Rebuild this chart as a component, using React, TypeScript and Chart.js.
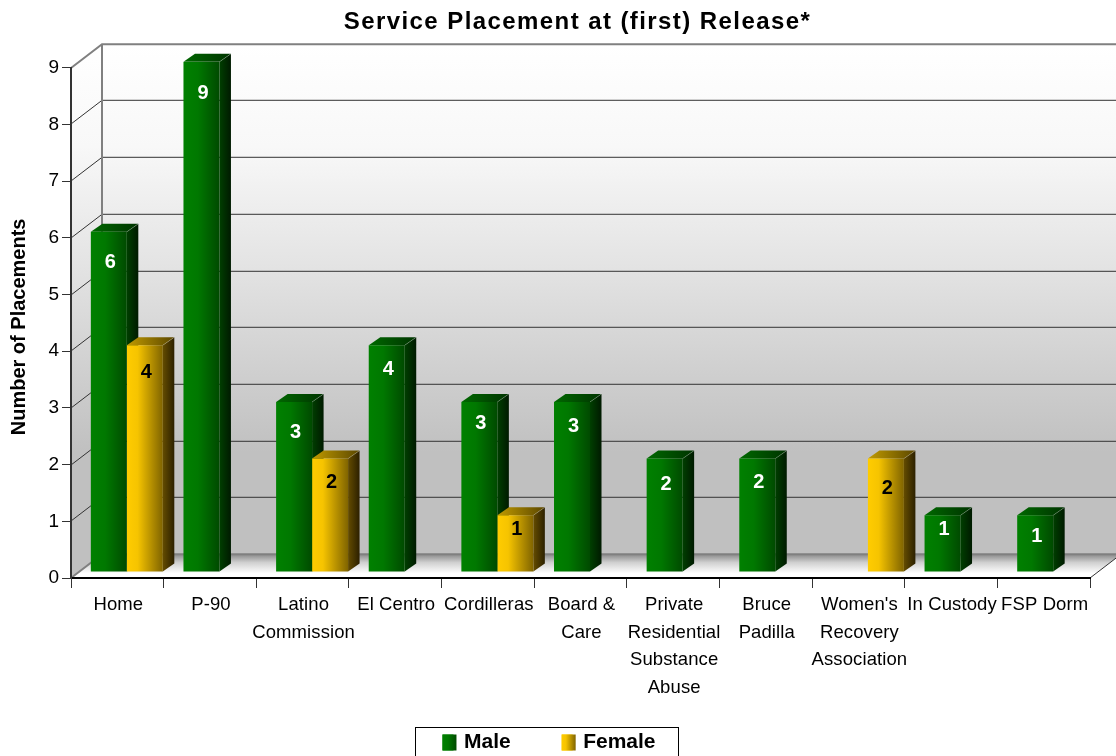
import React, { useEffect, useRef } from "react";
import { Chart, registerables } from "chart.js";

Chart.register(...registerables);

const categories: (string | string[])[] = [
  "Home",
  "P-90",
  ["Latino", "Commission"],
  "El Centro",
  "Cordilleras",
  ["Board &", "Care"],
  ["Private", "Residential", "Substance", "Abuse"],
  ["Bruce", "Padilla"],
  ["Women's", "Recovery", "Association"],
  "In Custody",
  "FSP Dorm",
];
const maleValues = [6, 9, 3, 4, 3, 3, 2, 2, null, 1, 1];
const femaleValues = [4, null, 2, null, 1, null, null, null, 2, null, null];

// Style: inset of each value label below its bar's top edge
const maleLabelInset = [31, 32, 31, 24, 22, 25, 26, 24, 0, 14, 21];
const femaleLabelInset = [27, 0, 24, 0, 14, 0, 0, 0, 30, 0, 0];

const FONT = "'Liberation Sans', Arial, sans-serif";
const DEPTH_X = 31;
const DEPTH_Y = 23.7;
const BAR_SHIFT_X = 9.5;
const BAR_SHIFT_Y = -6;
const BAR_DX = 11.5;
const BAR_DY = 8;

const palette = [
  {
    front: [[0, "#008000"], [0.4, "#007800"], [1, "#004a00"]],
    side: ["#003f00", "#001a00"],
    top: ["#006800", "#003400"],
  },
  {
    front: [[0, "#ffcc00"], [0.3, "#f6c400"], [1, "#806400"]],
    side: ["#644c00", "#2c2000"],
    top: ["#c09a00", "#5c4800"],
  },
] as const;

const hGrad = (ctx: CanvasRenderingContext2D, x0: number, x1: number, stops: readonly (readonly [number, string])[]) => {
  const g = ctx.createLinearGradient(x0, 0, x1, 0);
  stops.forEach(([o, c]) => g.addColorStop(o, c));
  return g;
};

const walls3d = {
  id: "walls3d",
  beforeDraw(chart: any) {
    const { ctx, chartArea: a, scales, width } = chart;
    const y = scales.y;
    const top = a.top - DEPTH_Y;
    const floorBack = a.bottom - DEPTH_Y;
    const bx = a.left + DEPTH_X;
    const wall = () => {
      const g = ctx.createLinearGradient(0, top, 0, floorBack);
      g.addColorStop(0, "#ffffff");
      g.addColorStop(0.2, "#f8f8f8");
      g.addColorStop(0.45, "#e2e2e2");
      g.addColorStop(0.8, "#c0c0c0");
      g.addColorStop(1, "#c0c0c0");
      return g;
    };
    ctx.save();
    // back wall
    ctx.fillStyle = wall();
    ctx.fillRect(bx, top, width - bx, floorBack - top);
    // left wall
    ctx.fillStyle = wall();
    ctx.beginPath();
    ctx.moveTo(a.left, a.top);
    ctx.lineTo(bx, top);
    ctx.lineTo(bx, floorBack);
    ctx.lineTo(a.left, a.bottom);
    ctx.closePath();
    ctx.fill();
    // floor
    const fg = ctx.createLinearGradient(0, floorBack, 0, a.bottom);
    fg.addColorStop(0, "#8a8a8a");
    fg.addColorStop(0.35, "#d0d0d0");
    fg.addColorStop(0.8, "#ffffff");
    fg.addColorStop(1, "#ffffff");
    ctx.fillStyle = fg;
    const rightSlope = DEPTH_Y / DEPTH_X;
    ctx.beginPath();
    ctx.moveTo(a.left, a.bottom);
    ctx.lineTo(bx, floorBack);
    ctx.lineTo(width, floorBack);
    ctx.lineTo(width, a.bottom - (width - a.right) * rightSlope);
    ctx.lineTo(a.right, a.bottom);
    ctx.closePath();
    ctx.fill();
    // grid lines
    for (let v = 0; v <= 9; v++) {
      const py = Math.round(y.getPixelForValue(v));
      const edge = v === 0 || v === 9;
      ctx.strokeStyle = edge ? "#808080" : "#333333";
      ctx.lineWidth = edge ? 2 : 1;
      ctx.beginPath();
      ctx.moveTo(a.left, py);
      ctx.lineTo(bx, py - DEPTH_Y);
      ctx.lineTo(width, py - DEPTH_Y);
      ctx.stroke();
    }
    // back wall left edge
    ctx.strokeStyle = "#808080";
    ctx.lineWidth = 2;
    ctx.beginPath();
    ctx.moveTo(bx, top);
    ctx.lineTo(bx, floorBack);
    ctx.stroke();
    // right floor edge
    ctx.strokeStyle = "#333333";
    ctx.lineWidth = 1;
    ctx.beginPath();
    ctx.moveTo(a.right, a.bottom);
    ctx.lineTo(width, a.bottom - (width - a.right) * rightSlope);
    ctx.stroke();
    ctx.restore();
  },
};

const bars3d = {
  id: "bars3d",
  beforeDatasetsDraw(chart: any) {
    const { ctx } = chart;
    ctx.save();
    ctx.translate(BAR_SHIFT_X, BAR_SHIFT_Y);
    [0, 1].forEach((di) => {
      const meta = chart.getDatasetMeta(di);
      const p = palette[di];
      meta.data.forEach((el: any, i: number) => {
        if (chart.data.datasets[di].data[i] == null) return;
        const { x, y, base, width } = el.getProps(["x", "y", "base", "width"], true);
        const l = x - width / 2;
        const r = x + width / 2;
        // side face
        ctx.fillStyle = hGrad(ctx, r, r + BAR_DX, [[0, p.side[0]], [1, p.side[1]]]);
        ctx.beginPath();
        ctx.moveTo(r, y);
        ctx.lineTo(r + BAR_DX, y - BAR_DY);
        ctx.lineTo(r + BAR_DX, base - BAR_DY);
        ctx.lineTo(r, base);
        ctx.closePath();
        ctx.fill();
        // top face
        ctx.fillStyle = hGrad(ctx, l, r + BAR_DX, [[0, p.top[0]], [1, p.top[1]]]);
        ctx.beginPath();
        ctx.moveTo(l, y);
        ctx.lineTo(l + BAR_DX, y - BAR_DY);
        ctx.lineTo(r + BAR_DX, y - BAR_DY);
        ctx.lineTo(r, y);
        ctx.closePath();
        ctx.fill();
        // faint corner edge
        ctx.strokeStyle = "rgba(255,255,255,0.22)";
        ctx.lineWidth = 1;
        ctx.beginPath();
        ctx.moveTo(r, y);
        ctx.lineTo(r + BAR_DX, y - BAR_DY);
        ctx.stroke();
        // front face gradient
        el.options = {
          ...el.options,
          backgroundColor: hGrad(ctx, l, r, p.front as any),
        };
      });
    });
  },
  afterDatasetsDraw(chart: any) {
    const { ctx } = chart;
    ctx.textAlign = "center";
    ctx.textBaseline = "middle";
    ctx.font = `bold 20px ${FONT}`;
    [0, 1].forEach((di) => {
      const meta = chart.getDatasetMeta(di);
      const insets = di === 0 ? maleLabelInset : femaleLabelInset;
      ctx.fillStyle = di === 0 ? "#ffffff" : "#000000";
      meta.data.forEach((el: any, i: number) => {
        const v = chart.data.datasets[di].data[i];
        if (v == null) return;
        const { x, y } = el.getProps(["x", "y"], true);
        ctx.fillText(String(v), x + 1.5, y + insets[i]);
      });
    });
    ctx.restore();
  },
};

const legendFrame = {
  id: "legendFrame",
  afterDraw(chart: any) {
    const { ctx, legend } = chart;
    const hb = legend.legendHitBoxes;
    if (!hb || !hb.length) return;
    ctx.save();
    const first = hb[0];
    const last = hb[hb.length - 1];
    ctx.strokeStyle = "#000000";
    ctx.lineWidth = 1;
    ctx.strokeRect(Math.round(first.left - 27) + 0.5, Math.round(first.top - 5) + 0.5, Math.round(last.left + last.width + 23 - first.left + 27), 40);
    hb.forEach((b: any, i: number) => {
      const p = palette[i];
      const x = b.left;
      ctx.fillStyle = hGrad(ctx, x, x + 14, p.front as any);
      ctx.fillRect(x, b.top + (b.height - 16) / 2, 14, 16);
    });
    ctx.restore();
  },
};

const spacing = {
  id: "spacing",
  afterLayout(chart: any) {
    if (chart.$spaced) return;
    chart.$spaced = true;
    const { ctx } = chart;
    const wrap = (obj: any, name: string, sp: string, dx = 0, dy = 0) => {
      const orig = obj[name];
      obj[name] = function (...args: any[]) {
        ctx.save();
        ctx.translate(dx, dy);
        ctx.letterSpacing = sp;
        orig.apply(obj, args);
        ctx.letterSpacing = "0px";
        ctx.restore();
      };
    };
    wrap(chart.titleBlock, "draw", "1.42px", -3);
    wrap(chart.scales.y, "drawTitle", "0px", -1, 4);
    wrap(chart.scales.x, "drawLabels", "0.1px", 1);
    chart.scales.x._computeLabelArea = () => null;
  },
};

export default function App() {
  const ref = useRef<HTMLCanvasElement>(null);
  useEffect(() => {
    document.body.style.margin = "0";
    const chart = new Chart(ref.current!, {
      type: "bar",
      data: {
        labels: categories as any,
        datasets: [
          { label: "Male", data: maleValues, backgroundColor: "#008000", borderWidth: 0 },
          { label: "Female", data: femaleValues, backgroundColor: "#ffcc00", borderWidth: 0 },
        ],
      },
      plugins: [walls3d, bars3d, legendFrame, spacing],
      options: {
        responsive: false,
        animation: false,
        layout: { padding: { left: 8, right: 26, top: 0, bottom: -7 } },
        datasets: { bar: { categoryPercentage: 0.777, barPercentage: 1 } },
        plugins: {
          tooltip: { enabled: false },
          title: {
            display: true,
            text: "Service Placement at (first) Release*",
            color: "#000",
            font: { family: FONT, size: 24, weight: "bold" },
            padding: { top: 8, bottom: 31 },
            fullSize: false,
          },
          legend: {
            display: true,
            position: "bottom",
            labels: {
              color: "#000",
              boxWidth: 11,
              boxHeight: 16,
              padding: 51,
              font: { family: FONT, size: 21, weight: "bold" },
            },
          },
        },
        scales: {
          x: {
            grid: { drawOnChartArea: false, color: "#333333", tickLength: 10 },
            border: { color: "#000000", width: 2 },
            ticks: {
              color: "#000",
              autoSkip: false,
              maxRotation: 0,
              minRotation: 0,
              padding: 3,
              font: { family: FONT, size: 18.5, lineHeight: 1.5 },
            },
            afterFit: (s: any) => {
              s.height = 103;
            },
          },
          y: {
            min: 0,
            max: 9,
            grid: { drawOnChartArea: false, color: "#333333", tickLength: 9 },
            border: { color: "#333333", width: 2 },
            ticks: {
              stepSize: 1,
              color: "#000",
              padding: 3,
              font: { family: FONT, size: 19 },
            },
            title: {
              display: true,
              text: "Number of Placements",
              color: "#000",
              font: { family: FONT, size: 20, weight: "bold" },
              padding: 0,
            },
            afterFit: (s: any) => {
              s.width = 63;
            },
          },
        },
      },
    } as any);
    return () => chart.destroy();
  }, []);
  return <canvas ref={ref} width={1116} height={756} style={{ display: "block" }} />;
}
